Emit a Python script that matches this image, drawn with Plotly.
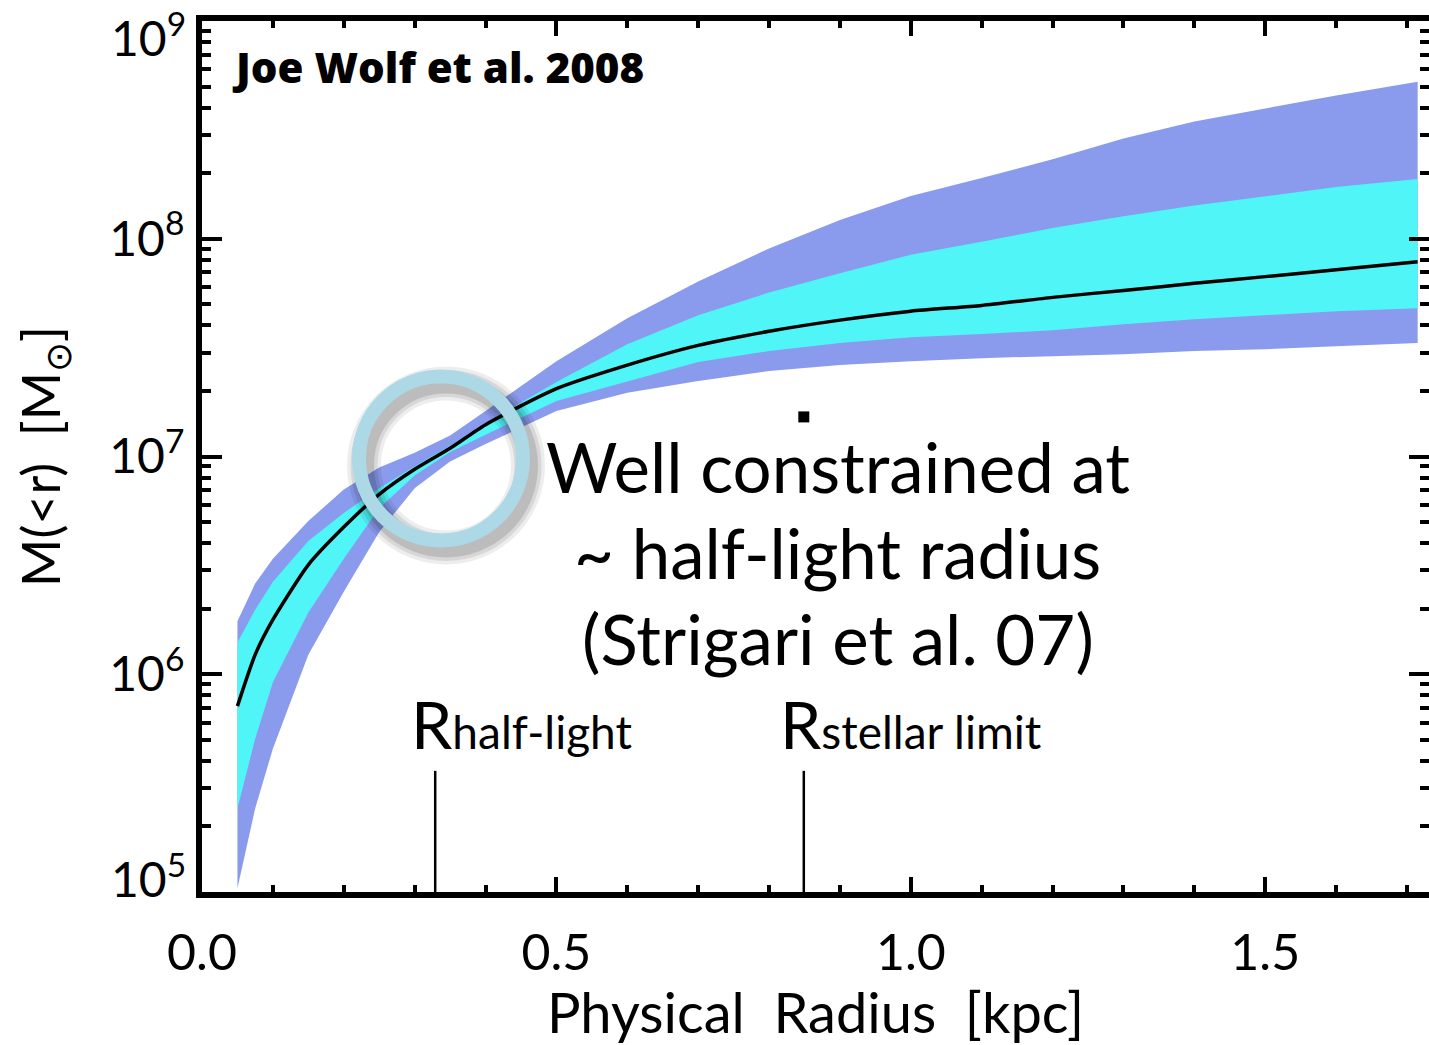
import plotly.graph_objects as go

# Enclosed mass profile M(<r) of a dwarf spheroidal (Wolf et al. 2008 style)
radius_kpc = [0.05, 0.075, 0.1, 0.15, 0.2, 0.25, 0.3, 0.35, 0.4, 0.5, 0.6,
              0.7, 0.8, 0.9, 1.0, 1.1, 1.2, 1.3, 1.4, 1.5, 1.6, 1.715]

# best-fit (median) enclosed mass [Msun]
mass_median = [7.14e5, 1.23e6, 1.78e6, 3.18e6, 4.74e6, 6.70e6, 8.73e6, 1.09e7,
               1.40e7, 2.05e7, 2.63e7, 3.24e7, 3.76e7, 4.23e7, 4.65e7, 4.94e7,
               5.38e7, 5.79e7, 6.24e7, 6.70e7, 7.21e7, 7.85e7]

# inner (68%) confidence band
mass_68_hi = [1.40e6, 1.98e6, 2.66e6, 4.09e6, 5.50e6, 7.14e6, 8.99e6, 1.12e7,
              1.42e7, 2.20e7, 3.28e7, 4.45e7, 5.66e7, 6.95e7, 8.45e7, 9.68e7,
              1.12e8, 1.27e8, 1.42e8, 1.57e8, 1.73e8, 1.88e8]
mass_68_lo = [2.42e5, 5.05e5, 9.18e5, 1.92e6, 3.39e6, 5.79e6, 8.18e6, 1.05e7,
              1.26e7, 1.80e7, 2.22e7, 2.72e7, 3.05e7, 3.32e7, 3.53e7, 3.65e7,
              3.80e7, 4.05e7, 4.27e7, 4.45e7, 4.65e7, 4.79e7]

# outer (95%) confidence band
mass_95_hi = [1.75e6, 2.61e6, 3.39e6, 5.05e6, 7.06e6, 8.91e6, 1.04e7, 1.25e7,
              1.62e7, 2.74e7, 4.32e7, 6.37e7, 9.02e7, 1.22e8, 1.57e8, 1.90e8,
              2.32e8, 2.89e8, 3.46e8, 3.96e8, 4.55e8, 5.26e8]
mass_95_lo = [1.04e5, 2.42e5, 4.55e5, 1.23e6, 2.39e6, 4.50e6, 7.14e6, 9.48e6,
              1.14e7, 1.62e7, 1.96e7, 2.22e7, 2.47e7, 2.63e7, 2.74e7, 2.83e7,
              2.89e7, 2.95e7, 3.05e7, 3.11e7, 3.21e7, 3.32e7]

# characteristic radii [kpc] and the height of their marker lines [Msun]
r_half_light = 0.329
r_stellar_limit = 0.849
radius_marker_top = 3.6e5
radius_marker_base = 1e5

# single data point near the stellar limit
point_r = [0.849]
point_mass = [1.52e7]

y_tick_vals = [1e5, 1e6, 1e7, 1e8, 1e9]
y_tick_text = ["10<sup>5</sup>", "10<sup>6</sup>", "10<sup>7</sup>",
               "10<sup>8</sup>", "10<sup>9</sup>"]

note_lines = ["Well constrained at", "~ half-light radius", "(Strigari et al. 07)"]

AXIS_FONT = "Lato"
TEXT_FONT = "Lato"
NBSP = "\u00a0"

fig = go.Figure()

fig.add_trace(go.Scatter(
    x=radius_kpc + radius_kpc[::-1],
    y=mass_95_hi + mass_95_lo[::-1],
    fill="toself", fillcolor="#8A9BEE",
    mode="lines", line=dict(width=0), hoverinfo="skip", showlegend=False))

fig.add_trace(go.Scatter(
    x=radius_kpc + radius_kpc[::-1],
    y=mass_68_hi + mass_68_lo[::-1],
    fill="toself", fillcolor="#50F5F8",
    mode="lines", line=dict(width=0), hoverinfo="skip", showlegend=False))

fig.add_trace(go.Scatter(
    x=radius_kpc, y=mass_median, mode="lines",
    line=dict(color="black", width=3.5, shape="spline", smoothing=0.6),
    showlegend=False))

for r in (r_half_light, r_stellar_limit):
    fig.add_trace(go.Scatter(
        x=[r, r], y=[radius_marker_base, radius_marker_top], mode="lines",
        line=dict(color="black", width=2.5), showlegend=False))

fig.add_trace(go.Scatter(
    x=point_r, y=point_mass, mode="markers",
    marker=dict(symbol="square", size=11, color="black"), showlegend=False))

# highlight ring around the half-light radius, with a soft drop shadow
ring_cx, ring_cy = 0.1948, 0.4977      # paper fractions
ring_radius_px = 82
for width, alpha in ((34, 0.07), (27, 0.09), (20, 0.12)):
    fig.add_shape(
        type="circle", xref="paper", yref="paper",
        xsizemode="pixel", ysizemode="pixel",
        xanchor=ring_cx, yanchor=ring_cy,
        x0=-ring_radius_px + 5, x1=ring_radius_px + 5,
        y0=-ring_radius_px - 7, y1=ring_radius_px - 7,
        line=dict(color=f"rgba(0,0,0,{alpha})", width=width))
fig.add_shape(
    type="circle", xref="paper", yref="paper",
    xsizemode="pixel", ysizemode="pixel",
    xanchor=ring_cx, yanchor=ring_cy,
    x0=-ring_radius_px, x1=ring_radius_px,
    y0=-ring_radius_px, y1=ring_radius_px,
    line=dict(color="#ADD8E6", width=14))

fig.add_annotation(
    text="Joe Wolf et al. 2008", xref="paper", yref="paper",
    x=0.0228, y=0.948, xanchor="left", yanchor="middle", showarrow=False,
    font=dict(family="Open Sans", size=42, color="black", weight=800))

for line, ypos in zip(note_lines, (0.4886, 0.3893, 0.2911)):
    fig.add_annotation(
        text=line, xref="paper", yref="paper", x=0.518, y=ypos,
        xanchor="center", yanchor="middle", showarrow=False,
        font=dict(family=TEXT_FONT, size=69, color="black"))

for r, sub in ((r_half_light, "half-light"), (r_stellar_limit, "stellar limit")):
    fig.add_annotation(
        text=f'R<span style="font-size:46px">{sub}</span>',
        xref="x", yref="paper", x=r, xshift=-26, y=0.193,
        xanchor="left", yanchor="middle", showarrow=False,
        font=dict(family=TEXT_FONT, size=66, color="black"))

# end-of-axis decade labels sit inside the axis span, as in IDL plots
tick_font = dict(family=AXIS_FONT, size=48, color="black")
fig.add_annotation(text=y_tick_text[-1], xref="paper", yref="paper",
                   x=0, y=1, xanchor="right", yanchor="top",
                   xshift=-14, yshift=20, showarrow=False, font=tick_font)
fig.add_annotation(text=y_tick_text[0], xref="paper", yref="paper",
                   x=0, y=0, xanchor="right", yanchor="bottom",
                   xshift=-14, yshift=-17, showarrow=False, font=tick_font)
axis_tick_text = [""] + y_tick_text[1:-1] + [""]

fig.update_layout(
    width=1429, height=1045,
    margin=dict(l=202, r=0, t=21, b=153),
    paper_bgcolor="white", plot_bgcolor="white",
    xaxis=dict(
        range=[0, 1.731], tick0=0, dtick=0.5, tickformat=".1f",
        automargin=False,
        showline=True, linewidth=6, linecolor="black", mirror="allticks",
        ticks="inside", ticklen=15, tickwidth=4, tickcolor="black",
        minor=dict(ticks="inside", dtick=0.1, ticklen=7, tickwidth=4,
                   tickcolor="black"),
        showgrid=False, zeroline=False, ticklabelstandoff=12,
        tickfont=dict(family=AXIS_FONT, size=50, color="black"),
        title=dict(text=f"Physical{NBSP} Radius{NBSP} [kpc]", standoff=16,
                   font=dict(family=AXIS_FONT, size=56, color="black"))),
    yaxis=dict(
        type="log", range=[4.9999, 9.0001], automargin=False,
        tickmode="array", tickvals=y_tick_vals, ticktext=axis_tick_text,
        showline=True, linewidth=6, linecolor="black", mirror="allticks",
        ticks="inside", ticklen=20, tickwidth=4, tickcolor="black",
        minor=dict(ticks="inside", dtick="D1", ticklen=9, tickwidth=4,
                   tickcolor="black"),
        showgrid=False, zeroline=False, ticklabelstandoff=2,
        tickfont=tick_font,
        title=dict(text=f"M(&lt;r){NBSP}{NBSP}[M<sub>⊙</sub>]", standoff=34,
                   font=dict(family=AXIS_FONT, size=52, color="black"))),
)

fig.write_html("out.html")
